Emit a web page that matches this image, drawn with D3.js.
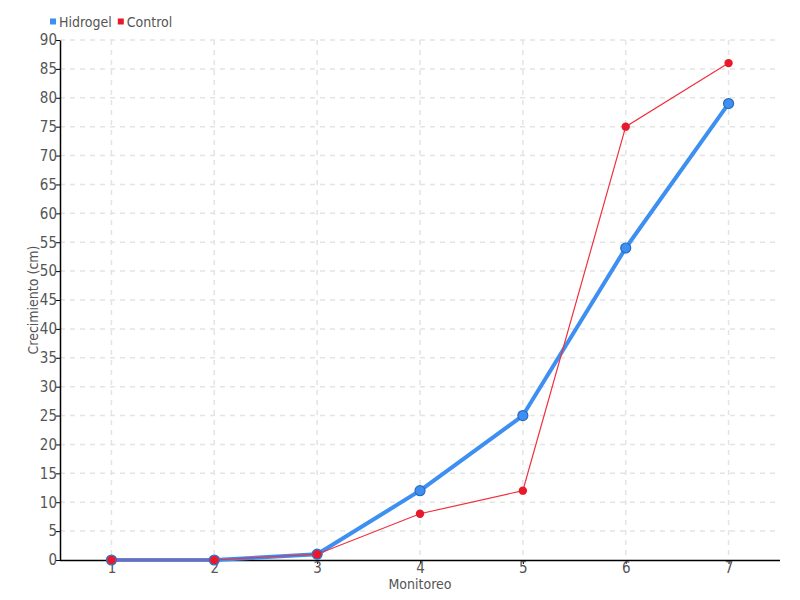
<!DOCTYPE html>
<html><head><meta charset="utf-8">
<script src="https://cdn.jsdelivr.net/npm/d3@7"></script>
<style>
body{margin:0;background:#fff;}
text{font-family:"DejaVu Sans Condensed","DejaVu Sans",sans-serif;font-stretch:condensed;fill:#555;}
</style></head><body>
<svg id="c" width="800" height="600"></svg>
<script>
const categories = ["1","2","3","4","5","6","7"];
const hidrogel = [0,0,1,12,25,54,79];
const control = [0,0,1,8,12,75,86];
const yTicks = d3.range(0,91,5);

const FONT = '"DejaVu Sans Condensed","DejaVu Sans",sans-serif';
const svg = d3.select("#c");
const m = {l:60, r:20, t:40, b:40};
const W = 800, H = 600;
const x = d3.scalePoint().domain(categories).range([m.l, W-m.r]).padding(0.5);
const y = d3.scaleLinear().domain([0,90]).range([H-m.b, m.t]);

// grid
svg.append("g").selectAll("line").data(yTicks.slice(1)).join("line")
  .attr("x1",m.l).attr("x2",W-m.r).attr("y1",d=>y(d)).attr("y2",d=>y(d))
  .attr("stroke","#e4e4e4").attr("stroke-dasharray","5,5").attr("stroke-width",1.5);
svg.append("g").selectAll("line").data(categories).join("line")
  .attr("x1",d=>x(d)).attr("x2",d=>x(d)).attr("y1",m.t).attr("y2",H-m.b)
  .attr("stroke","#e4e4e4").attr("stroke-dasharray","5,5").attr("stroke-width",1.5);

// axes
const yAxis = svg.append("g").attr("transform",`translate(${m.l},0)`)
  .call(d3.axisLeft(y).tickValues(yTicks).tickSize(4).tickSizeOuter(0));
const xAxis = svg.append("g").attr("transform",`translate(0,${H-m.b})`)
  .call(d3.axisBottom(x).tickSize(4).tickSizeOuter(0));
[yAxis,xAxis].forEach(a=>{
  a.select(".domain").attr("stroke","#000").attr("stroke-width",1.5);
  a.selectAll(".tick line").attr("stroke","#000");
  a.selectAll("text").style("font-size","15px").attr("fill","#555")
   .style("font-family",FONT).style("font-stretch","condensed");
});
yAxis.selectAll("text").attr("x",-3);
xAxis.selectAll("text").attr("y",2);
xAxis.select(".domain").attr("d",`M${m.l},0.5H${W-m.r}`);

// axis titles
svg.append("text").attr("x",(m.l+W-m.r)/2).attr("y",589).attr("text-anchor","middle")
  .style("font-size","14px").text("Monitoreo");
svg.append("text").attr("transform",`translate(38,${(m.t+H-m.b)/2}) rotate(-90)`)
  .attr("text-anchor","middle").style("font-size","14px").text("Crecimiento (cm)");

// lines
const line = d3.line().x((d,i)=>x(categories[i])).y(d=>y(d));
svg.append("path").datum(hidrogel).attr("d",line).attr("fill","none")
  .attr("stroke","#3d8ff2").attr("stroke-width",4).attr("stroke-linejoin","round");
svg.append("g").selectAll("circle").data(hidrogel).join("circle")
  .attr("cx",(d,i)=>x(categories[i])).attr("cy",d=>y(d)).attr("r",5)
  .attr("fill","#3d8ff2").attr("stroke","#2a6cc0").attr("stroke-width",1.2);
svg.append("path").datum(control).attr("d",line).attr("fill","none")
  .attr("stroke","#f0303f").attr("stroke-width",1.2);
svg.append("g").selectAll("circle").data(control).join("circle")
  .attr("cx",(d,i)=>x(categories[i])).attr("cy",d=>y(d)).attr("r",4.2)
  .attr("fill","#e8192a");

// legend
const legend = [["Hidrogel","#3d8ff2"],["Control","#e8192a"]];
let lx = 50;
legend.forEach(([name,col])=>{
  svg.append("rect").attr("x",lx).attr("y",18.5).attr("width",6).attr("height",6).attr("fill",col);
  const t = svg.append("text").attr("x",lx+9).attr("y",27).style("font-size","14px").text(name);
  lx += 9 + t.node().getComputedTextLength() + 6;
});
</script></body></html>
